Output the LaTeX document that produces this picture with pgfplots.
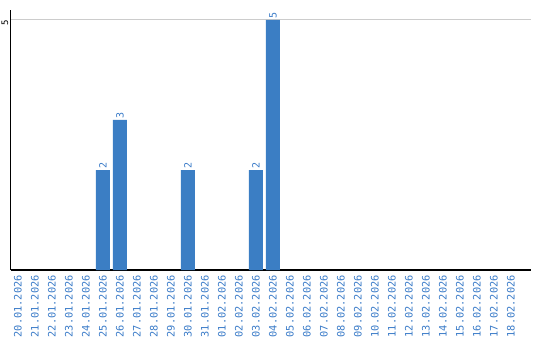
\documentclass[border=0pt]{standalone}
\usepackage{fontspec}
\setmainfont{DejaVu Sans}
\setmonofont{DejaVu Sans Mono}
\usepackage{pgfplots}
\pgfplotsset{compat=1.18}
\definecolor{barblue}{HTML}{3B7EC4}
\definecolor{lblblue}{HTML}{3A7BC8}
\definecolor{gridgray}{HTML}{CCCCCC}
\begin{document}
\begin{tikzpicture}[x=1pt,y=1pt]
\path (0,0) rectangle (540,340);
\begin{axis}[
  at={(10.5pt,70pt)}, anchor=south west,
  scale only axis, width=520.5pt, height=260pt,
  xmin=-0.44, xmax=30.18, ymin=0, ymax=5.2,
  axis x line*=bottom, axis y line*=left,
  axis line style={line width=1.5pt, -},
  major tick length=0pt,
  xtick={0,...,29},
  xticklabels={20.01.2026,21.01.2026,22.01.2026,23.01.2026,24.01.2026,25.01.2026,26.01.2026,27.01.2026,28.01.2026,29.01.2026,30.01.2026,31.01.2026,01.02.2026,02.02.2026,03.02.2026,04.02.2026,05.02.2026,06.02.2026,07.02.2026,08.02.2026,09.02.2026,10.02.2026,11.02.2026,12.02.2026,13.02.2026,14.02.2026,15.02.2026,16.02.2026,17.02.2026,18.02.2026},
  xticklabel style={rotate=90, anchor=east, font=\ttfamily\fontsize{10.3}{11}\selectfont, text=lblblue, inner sep=0pt, xshift=-5pt},
  ytick={5}, yticklabels={5},
  yticklabel style={rotate=90, anchor=south, font=\ttfamily\fontsize{9}{10}\selectfont, inner sep=0pt, yshift=2pt, xshift=-3pt},
  ymajorgrids, grid style={gridgray, line width=1pt},
  point meta=explicit symbolic,
  nodes near coords={\ttfamily\fontsize{10}{11}\selectfont\pgfplotspointmeta},
  every node near coord/.append style={rotate=90, anchor=west, text=lblblue, inner sep=1.5pt},
]
\addplot[ybar, bar width=14pt, fill=barblue, draw=none] coordinates {
  (5,2) [2] (6,3) [3] (10,2) [2] (14,2) [2] (15,5) [5]
};
\end{axis}
\end{tikzpicture}
\end{document}
